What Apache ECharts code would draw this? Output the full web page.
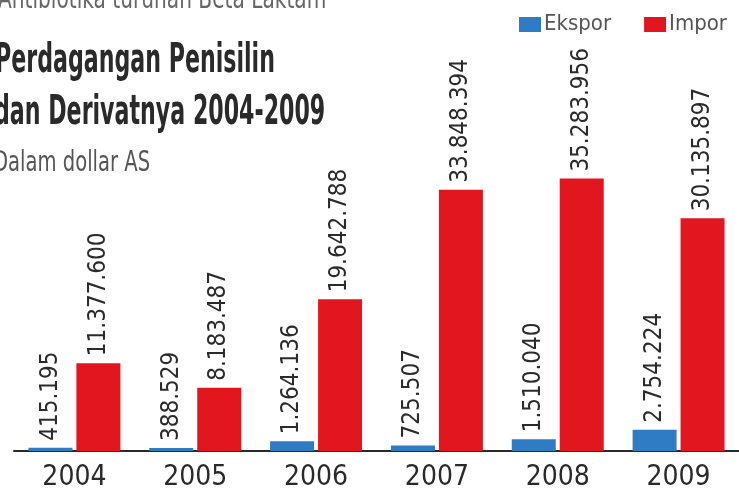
<!DOCTYPE html>
<html>
<head>
<meta charset="utf-8">
<script src="https://cdn.jsdelivr.net/npm/echarts@6/dist/echarts.min.js"></script>
<style>html,body{margin:0;padding:0;background:#fff;}#c{width:739px;height:492px;}</style>
</head>
<body>
<div id="c"></div>
<script>
var categories = ['2004', '2005', '2006', '2007', '2008', '2009'];
var ekspor = [415195, 388529, 1264136, 725507, 1510040, 2754224];
var impor = [11377600, 8183487, 19642788, 33848394, 35283956, 30135897];
var seriesNames = ['Ekspor', 'Impor'];
var kicker = 'Antibiotika turunan Beta Laktam';
var titleLines = ['Perdagangan Penisilin', 'dan Derivatnya 2004-2009'];
var unitText = 'Dalam dollar AS';

var NARROW = '"DejaVu Sans Condensed", "DejaVu Sans", sans-serif';
function fmt(v) { return String(v).replace(/\B(?=(\d{3})+(?!\d))/g, '.'); }

var chart = echarts.init(document.getElementById('c'));
var labelCfg = {
  show: true, position: 'top', rotate: 90, align: 'left', verticalAlign: 'middle',
  distance: 7, fontFamily: NARROW, fontSize: 24, color: '#2b2b2b',
  formatter: function (p) { return fmt(p.value); }
};
chart.setOption({
  animation: false,
  backgroundColor: '#ffffff',
  graphic: [
    { type: 'text', x: -2, y: -13, scaleX: 0.8, style: { text: kicker, fontFamily: NARROW, fontSize: 28, fill: '#666', verticalAlign: 'top' } },
    { type: 'text', x: -5, y: 40.5, scaleX: 0.6, style: { text: titleLines[0], fontFamily: NARROW, fontWeight: 'bold', fontSize: 41, fill: '#2a2a2a', verticalAlign: 'top' } },
    { type: 'text', x: -6, y: 92.5, scaleX: 0.6, style: { text: titleLines[1], fontFamily: NARROW, fontWeight: 'bold', fontSize: 41, fill: '#2a2a2a', verticalAlign: 'top' } },
    { type: 'text', x: -7, y: 149, scaleX: 0.75, style: { text: unitText, fontFamily: NARROW, fontSize: 29, fill: '#555', verticalAlign: 'top' } }
  ],
  legend: {
    data: seriesNames, right: 7, top: 8.5, icon: 'rect', itemWidth: 22, itemHeight: 15, itemGap: 33,
    textStyle: { fontFamily: NARROW, fontSize: 22, color: '#555', padding: [0, 0, 0, -2] }
  },
  grid: { left: 14, right: 0, top: 65, bottom: 39, containLabel: false },
  xAxis: {
    type: 'category', data: categories,
    axisLine: { lineStyle: { color: '#2a2a2a', width: 2 } },
    axisTick: { inside: true, length: 7, lineStyle: { color: '#2a2a2a', width: 2 } },
    axisLabel: { fontFamily: NARROW, fontSize: 28, color: '#2a2a2a', margin: 13 }
  },
  yAxis: { type: 'value', min: 0, max: 50000000, show: false, splitLine: { show: false } },
  series: [
    { name: seriesNames[0], type: 'bar', data: ekspor, barWidth: 44, barGap: '9%', itemStyle: { color: '#2f7cc4' }, label: labelCfg },
    { name: seriesNames[1], type: 'bar', data: impor, barWidth: 44, barGap: '9%', itemStyle: { color: '#e2161f' }, label: labelCfg }
  ]
});
</script>
</body>
</html>
